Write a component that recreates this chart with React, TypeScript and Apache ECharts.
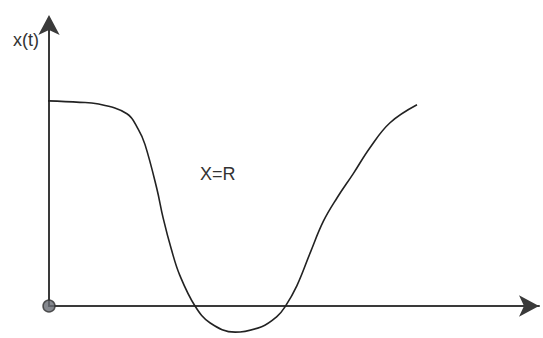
import React, { useEffect, useRef } from "react";
import * as echarts from "echarts";

// Response curve x(t): time values and the matching amplitudes (R = 1)
const tValues = [
  -0.12, 0.63, 0.98, 1.59, 1.82, 1.96, 2.2, 2.33, 2.5, 2.67, 2.98, 3.29, 3.8,
  4.34, 4.65, 4.82, 5.06, 5.33, 5.6, 5.88, 6.21, 6.55, 6.96, 7.51,
];
const xValues = [
  1.005, 0.997, 0.99, 0.941, 0.866, 0.79, 0.575, 0.43, 0.275, 0.15, 0, -0.083,
  -0.128, -0.101, -0.052, -0.003, 0.1, 0.26, 0.415, 0.53, 0.648, 0.775, 0.897,
  0.985,
];
const origin = [[0, 0]];
const yAxisTitle = "x(t)";
const levelLabel = "X=R";

export default function App() {
  const ref = useRef<HTMLDivElement>(null);

  useEffect(() => {
    if (!ref.current) return;
    const chart = echarts.init(ref.current, null, { renderer: "svg" });
    const axisLine = {
      show: true,
      onZero: false,
      symbol: ["none", "arrow"],
      symbolSize: [16, 20],
      lineStyle: { color: "#3a3a3a", width: 2 },
    };
    chart.setOption({
      animation: false,
      backgroundColor: "#ffffff",
      grid: { left: 49, right: 4, top: 20, bottom: 32 },
      xAxis: {
        type: "value",
        min: 0,
        max: 10,
        axisLine: { ...axisLine, symbolOffset: [0, 0] },
        axisTick: { show: false },
        axisLabel: { show: false },
        splitLine: { show: false },
      },
      yAxis: {
        type: "value",
        min: 0,
        max: 1.4,
        axisLine: { ...axisLine, symbolOffset: [0, 5] },
        axisTick: { show: false },
        axisLabel: { show: false },
        splitLine: { show: false },
      },
      series: [
        {
          type: "line",
          data: tValues.map((t, i) => [t, xValues[i]]),
          smooth: 0.4,
          clip: false,
          showSymbol: false,
          lineStyle: { color: "#222222", width: 1.6 },
          z: 3,
        },
        {
          type: "scatter",
          data: origin,
          clip: false,
          symbol: "circle",
          symbolSize: 12,
          itemStyle: { color: "#686c73", borderColor: "#333333", borderWidth: 1.5 },
          z: 5,
        },
      ],
      graphic: [
        {
          type: "text",
          left: 13,
          top: 31,
          style: {
            text: yAxisTitle,
            font: "18px 'Liberation Sans', Arial, sans-serif",
            fill: "#333333",
          },
        },
        {
          type: "text",
          left: 200,
          top: 165,
          style: {
            text: levelLabel,
            font: "18px 'Liberation Sans', Arial, sans-serif",
            fill: "#333333",
          },
        },
      ],
    });
    return () => chart.dispose();
  }, []);

  return (
    <div
      ref={ref}
      style={{ position: "fixed", left: 0, top: 0, width: 543, height: 338 }}
    />
  );
}
